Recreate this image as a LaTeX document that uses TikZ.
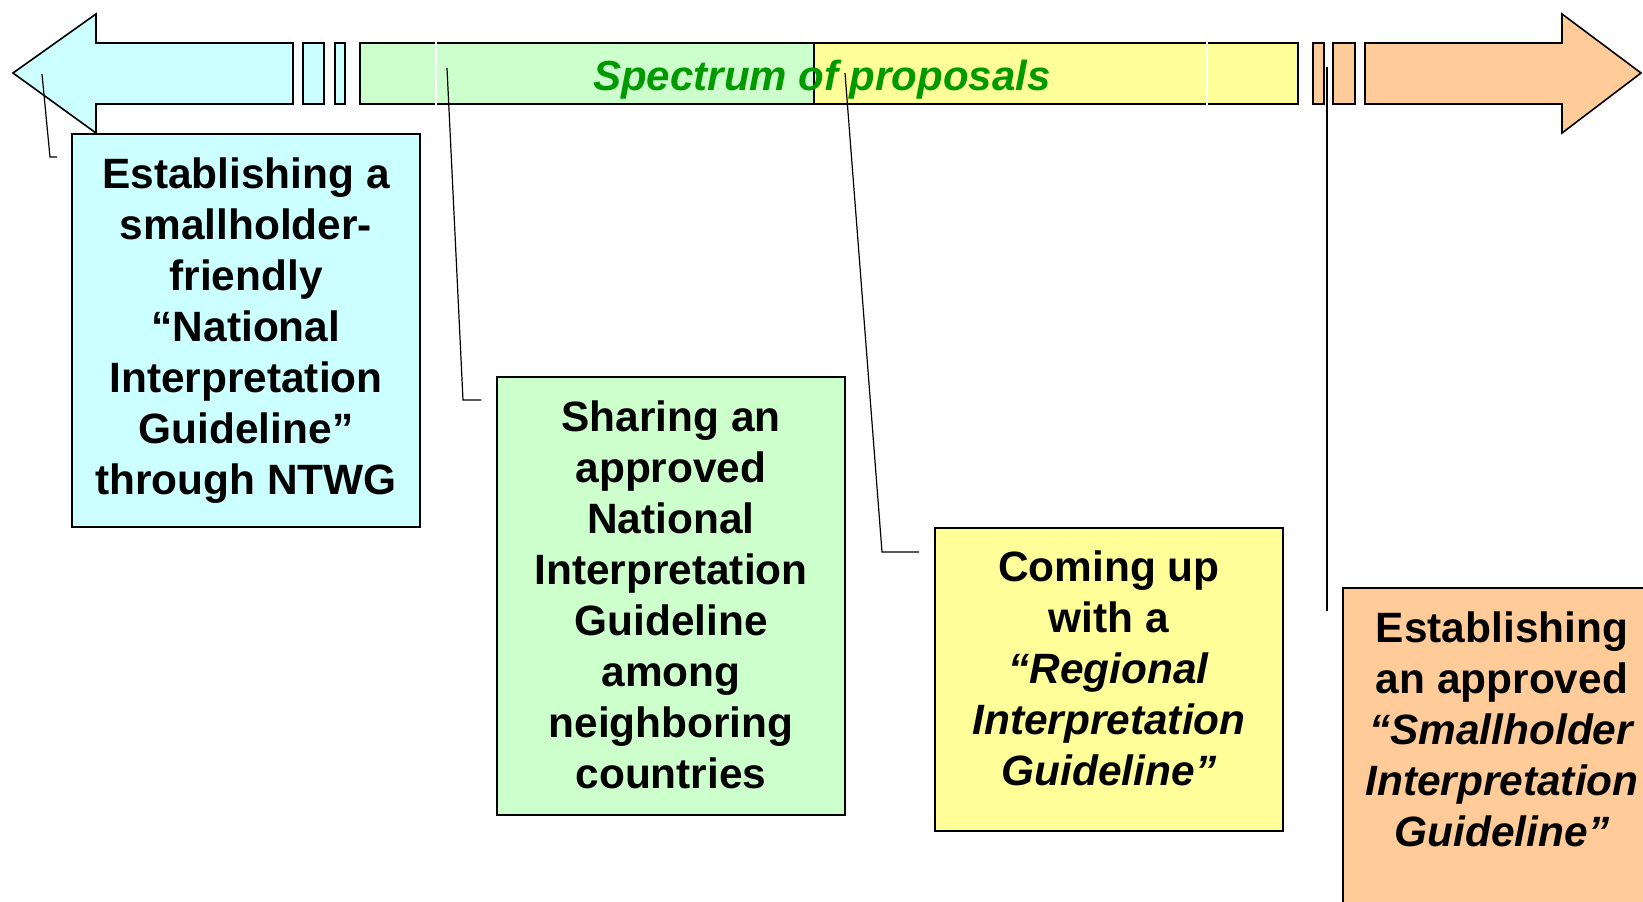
\documentclass[tikz,border=0pt]{standalone}
\usepackage{fontspec}
\setmainfont{Liberation Sans}
\usepackage{xcolor}
\usepackage{tikz}
\definecolor{cyanbg}{RGB}{204,255,255}
\definecolor{greenbg}{RGB}{204,255,204}
\definecolor{yellowbg}{RGB}{255,255,153}
\definecolor{orangebg}{RGB}{255,204,153}
\definecolor{titlegreen}{RGB}{0,153,0}
\tikzset{bar/.style={draw=black,line width=0.8pt,line join=miter},
         boxtext/.style={align=center,inner sep=0pt,
                         font=\bfseries\fontsize{21.2}{25.5}\selectfont},
         leader/.style={draw=black,line width=0.6pt}}

\begin{document}
\begin{tikzpicture}[x=0.5pt,y=-0.5pt]
\clip (0,0) rectangle (1643,901);
\fill[white] (0,0) rectangle (1643,901);
\draw[bar,fill=cyanbg] (13,73)--(96,14)--(96,43)--(293,43)--(293,104)--(96,104)--(96,133)--cycle;
\draw[bar,fill=cyanbg] (303,43) rectangle (324,104);
\draw[bar,fill=cyanbg] (335,43) rectangle (345,104);
\draw[bar,fill=greenbg] (360,43) rectangle (814,104);
\draw[bar,fill=yellowbg] (814,43) rectangle (1298,104);
\foreach \x in {436,1207}
  \draw[white,line width=1pt] (\x,41)--(\x,106);
\draw[bar,fill=orangebg] (1313,43) rectangle (1324,104);
\draw[bar,fill=orangebg] (1333,43) rectangle (1355,104);
\draw[bar,fill=orangebg] (1365,43)--(1562,43)--(1562,14)--(1641,73)--(1562,133)--(1562,104)--(1365,104)--cycle;
\node[font=\bfseries\itshape\fontsize{21}{25}\selectfont,text=titlegreen] (spectrum) at (822,80) {Spectrum of proposals};

\draw[bar,fill=cyanbg] (72,134) rectangle (420,527);
\draw[bar,fill=greenbg] (497,377) rectangle (845,815);
\draw[bar,fill=yellowbg] (935,528) rectangle (1283,831);
\draw[bar,fill=orangebg] (1343,588) rectangle (1700,960);

\node[boxtext] (ntwg) at (246,331) {Establishing a\\smallholder-\\friendly\\“National\\Interpretation\\Guideline”\\through NTWG};
\node[boxtext] (sharing) at (671,595) {Sharing an\\approved\\National\\Interpretation\\Guideline\\among\\neighboring\\countries};
\node[boxtext] (regional) at (1109,668) {Coming up\\with a\\\textit{“Regional}\\\textit{Interpretation}\\\textit{Guideline”}};
\node[boxtext] (smallholder) at (1502,729) {Establishing\\an approved\\\textit{“Smallholder}\\\textit{Interpretation}\\\textit{Guideline”}};

\coordinate (p1) at (42,74);   \coordinate (q1) at (50,157);  \coordinate (r1) at (57,157);
\coordinate (p2) at (447,68);  \coordinate (q2) at (463,400); \coordinate (r2) at (481,400);
\coordinate (p3) at (845,73);  \coordinate (q3) at (882,552); \coordinate (r3) at (919,552);
\coordinate (p4) at (1327,67); \coordinate (q4) at (1327,611);
\draw[leader] (p1)--(q1)--(r1);
\draw[leader] (p2)--(q2)--(r2);
\draw[leader] (p3)--(q3)--(r3);
\draw[leader] (p4)--(q4);
\end{tikzpicture}
\end{document}
